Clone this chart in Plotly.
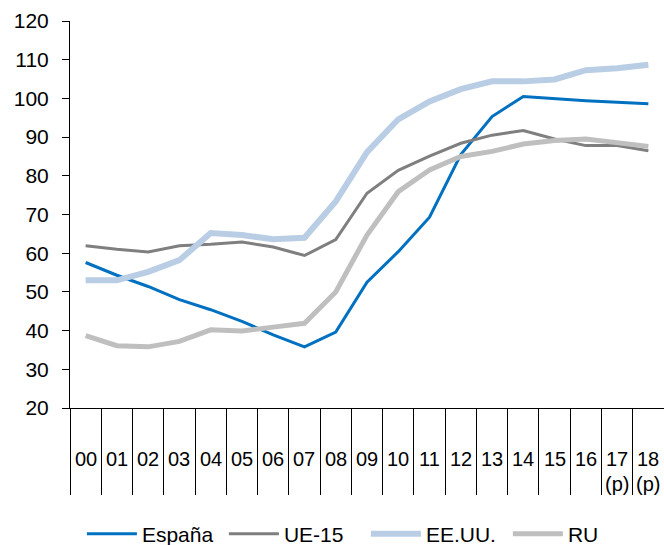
import plotly.graph_objects as go

# Years (two-digit) and projected flags
years = ["00", "01", "02", "03", "04", "05", "06", "07", "08", "09",
         "10", "11", "12", "13", "14", "15", "16", "17", "18"]
projected = [False] * 17 + [True, True]

# Series values by country / region
espana = [57.6, 54.3, 51.4, 48.0, 45.4, 42.4, 38.9, 35.8, 39.6, 52.5,
          60.4, 69.3, 85.5, 95.3, 100.5, 99.9, 99.4, 99.0, 98.6]
ue15 = [61.9, 61.0, 60.3, 61.9, 62.3, 62.9, 61.6, 59.4, 63.5, 75.5,
        81.4, 85.1, 88.4, 90.5, 91.7, 89.5, 87.8, 87.8, 86.5]
eeuu = [53.0, 53.0, 55.2, 58.2, 65.2, 64.7, 63.6, 64.0, 73.4, 86.1,
        94.6, 99.2, 102.4, 104.4, 104.4, 104.9, 107.3, 107.8, 108.7]
ru = [38.7, 36.1, 35.8, 37.2, 40.2, 39.9, 40.9, 41.9, 50.0, 64.7,
      75.9, 81.5, 85.0, 86.3, 88.2, 89.1, 89.5, 88.6, 87.6]

series = [
    ("España", espana, "#0070C0", 3),
    ("UE-15", ue15, "#7F7F7F", 3),
    ("EE.UU.", eeuu, "#B9CDE5", 6),
    ("RU", ru, "#BFBFBF", 5),
]

FONT = "Liberation Sans, Arial, sans-serif"

fig = go.Figure()
for name, vals, color, width in series:
    fig.add_trace(go.Scatter(
        x=years, y=vals, name=name, mode="lines",
        line=dict(color=color, width=width),
        cliponaxis=False,
    ))

# Category labels sit between the long boundary ticks
annotations = []
for yr, proj in zip(years, projected):
    annotations.append(dict(
        x=yr, xref="x", y=-0.132, yref="paper", text=yr,
        showarrow=False, xanchor="center", yanchor="middle",
        font=dict(family=FONT, size=20, color="#000000"),
    ))
    if proj:
        annotations.append(dict(
            x=yr, xref="x", y=-0.197, yref="paper", text="(p)",
            showarrow=False, xanchor="center", yanchor="middle",
            font=dict(family=FONT, size=20, color="#000000"),
        ))

fig.update_layout(
    width=664, height=545,
    margin=dict(l=70, r=0, t=21, b=137, autoexpand=False),
    paper_bgcolor="white", plot_bgcolor="white",
    font=dict(family=FONT, size=20, color="#000000"),
    showlegend=True,
    legend=dict(
        orientation="h", x=0.02, xanchor="left",
        y=-0.326, yanchor="middle", yref="paper",
        font=dict(family=FONT, size=21, color="#000000"),
        itemwidth=50, entrywidth=77, entrywidthmode="pixels",
        bgcolor="rgba(0,0,0,0)",
    ),
    annotations=annotations,
    xaxis=dict(
        type="category", range=[-0.5, 18.5],
        showline=True, linecolor="#000000", linewidth=1,
        ticks="outside", tickson="boundaries", ticklen=86,
        tickcolor="#000000", tickwidth=1,
        showticklabels=False, showgrid=False, zeroline=False,
    ),
    yaxis=dict(
        range=[20, 120], dtick=10, tick0=20,
        showline=True, linecolor="#000000", linewidth=1,
        ticks="outside", ticklen=7, tickcolor="#000000", tickwidth=1,
        showgrid=False, zeroline=False,
        tickfont=dict(family=FONT, size=21, color="#000000"),
        ticklabelstandoff=9,
    ),
)

fig.write_html("out.html")
